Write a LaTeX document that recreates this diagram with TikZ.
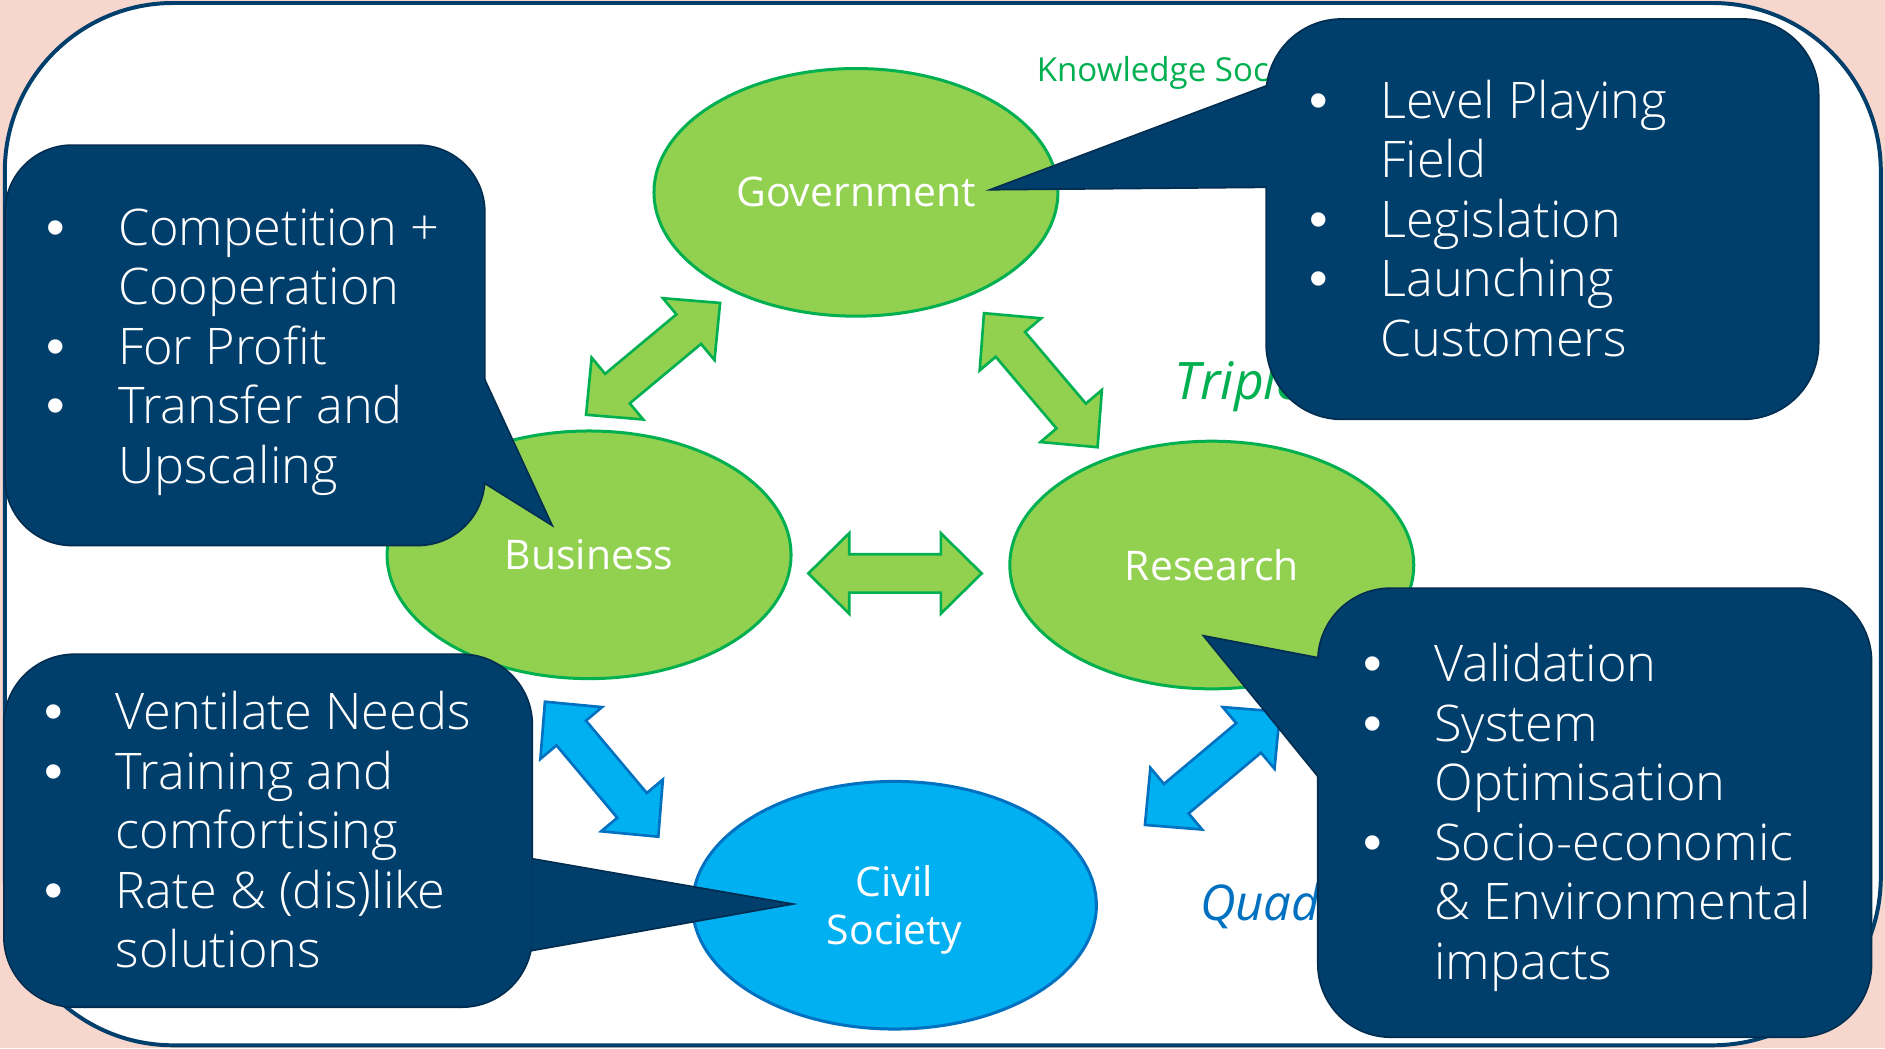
\documentclass[tikz,border=0pt]{standalone}
\usepackage{fontspec}
\setmainfont{Open Sans}
\newfontfamily\bulf{Liberation Sans}
\IfFontExistsTF{Open Sans Light}{\newfontfamily\lightf{Open Sans Light}}{%
 \IfFontExistsTF{OpenSans-Light}{\newfontfamily\lightf{OpenSans-Light}}{%
  \newfontfamily\lightf{Open Sans}}}
\usetikzlibrary{shapes.geometric,calc}
\definecolor{pinkbg}{RGB}{247,215,205}
\definecolor{navy}{RGB}{0,63,107}
\definecolor{navyline}{RGB}{0,45,80}
\definecolor{lgreen}{RGB}{146,208,80}
\definecolor{dgreen}{RGB}{0,176,80}
\definecolor{cyanb}{RGB}{0,176,240}
\definecolor{dblue}{RGB}{0,112,192}
\tikzset{
 ell/.style={ellipse, draw=dgreen, fill=lgreen, line width=2.5pt, minimum width=336pt, minimum height=206pt, inner sep=0pt, text=white, align=center, font=\fontsize{34}{40}\selectfont},
 civell/.style={ell, draw=dblue, fill=cyanb},
 elltxt/.style={inner sep=0pt, text=white, align=center, font=\fontsize{34}{40}\selectfont},
 garrow/.style={fill=lgreen, draw=dgreen, line width=2.2pt, line join=miter},
 barrow/.style={fill=cyanb, draw=dblue, line width=2.2pt, line join=miter},
 cotxt/.style={anchor=base west, inner sep=0pt, text=white, font=\lightf\fontsize{42}{49.5}\selectfont},
 cobul/.style={anchor=base, inner sep=0pt, text=white, font=\bulf\fontsize{44}{46}\selectfont},
 coline/.style={draw=navyline, line width=3pt, line join=miter},
 cofill/.style={fill=navy},
 helix/.style={anchor=base west, inner sep=0pt},
}
\newcommand\blockarrow[6]{%
 \coordinate (ba1) at ($(#1)!#3!(#2)$);
 \coordinate (ba2) at ($(#2)!#3!(#1)$);
 \draw[#6] (#1) -- ($(ba1)!#4!90:(#2)$) -- ($(ba1)!#5!90:(#2)$) -- ($(ba2)!#5!-90:(#1)$) -- ($(ba2)!#4!-90:(#1)$) -- (#2)
   -- ($(ba2)!#4!90:(#1)$) -- ($(ba2)!#5!90:(#1)$) -- ($(ba1)!#5!-90:(#2)$) -- ($(ba1)!#4!-90:(#2)$) -- cycle;}
\newcommand\callout[2]{%
 \draw[coline] #1; \draw[coline] #2; \fill[cofill] #1; \fill[cofill] #2;}
\begin{document}
\begin{tikzpicture}[x=1pt,y=-1pt]
\useasboundingbox (0,0) rectangle (1568,871.8);
\fill[pinkbg] (0,0) rectangle (1568,871.8);
\draw[navy, fill=white, line width=3.3pt, rounded corners=140pt] (4,2.5) rectangle (1564.5,869.5);
% helix labels
\node[helix, text=dgreen, font=\fontsize{27.5}{30}\selectfont] (ks) at (862.3,68) {Knowledge Soc};
\node[helix, text=dgreen, font=\itshape\fontsize{43}{48}\selectfont] (tri) at (977,332.7) {Triple};
\node[helix, text=dblue, font=\itshape\fontsize{41}{46}\selectfont] (quad) at (998,765.3) {Quad};
% actors
\node[ell] (gov) at (712,160) {Government};
\node[ell] (bus) at (490,461.5) {Business};
\node[ell] (res) at (1008,470) {Research};
\node[civell] (civ) at (744,753) {};
\node[elltxt] (civt) at (744,757) {Civil\\Society};
% block arrows
\coordinate (a1s) at (487.5,345);   \coordinate (a1e) at (599,252);
\coordinate (a2s) at (818.5,260.5); \coordinate (a2e) at (913,372);
\coordinate (a3s) at (672.4,477);   \coordinate (a3e) at (816.6,477);
\coordinate (a4s) at (453.3,583.7); \coordinate (a4e) at (547.6,696);
\coordinate (a5s) at (952.4,686.2); \coordinate (a5e) at (1064.7,592);
\blockarrow{a1s}{a1e}{34pt}{33.5pt}{16pt}{garrow}
\blockarrow{a2s}{a2e}{34pt}{33.5pt}{16pt}{garrow}
\blockarrow{a3s}{a3e}{34pt}{33.5pt}{16pt}{garrow}
\blockarrow{a4s}{a4e}{34pt}{33.5pt}{16pt}{barrow}
\blockarrow{a5s}{a5e}{34pt}{33.5pt}{16pt}{barrow}
% callouts
\callout{[rounded corners=55pt] (5,121.5) rectangle (402.5,453)}{(402.5,316) -- (457.5,435) -- (402.5,400.7) -- cycle}
\callout{[rounded corners=62pt] (1054,16.6) rectangle (1512,348)}{(1054,72) -- (828,157) -- (1054,155) -- cycle}
\callout{[rounded corners=58pt] (4,545) rectangle (442,837)}{(442,715) -- (655,752) -- (442,790) -- cycle}
\callout{[rounded corners=60pt] (1097,490) rectangle (1556,862)}{(1097,548) -- (1003,530) -- (1097,645.5) -- cycle}
% callout 1 text
\node[cobul] (b11) at (46.6,203.8) {•};
\node[cotxt] (t11) at (98,203.8) {Competition +};
\node[cotxt] (t12) at (98,253.3) {Cooperation};
\node[cobul] (b13) at (46.6,302.8) {•};
\node[cotxt] (t13) at (98,302.8) {For Profit};
\node[cobul] (b14) at (46.6,352.3) {•};
\node[cotxt] (t14) at (98,352.3) {Transfer and};
\node[cotxt] (t15) at (98,401.8) {Upscaling};
% callout 2 text
\node[cobul] (b21) at (1097,98.5) {•};
\node[cotxt] (t21) at (1148,98.5) {Level Playing};
\node[cotxt] (t22) at (1148,148) {Field};
\node[cobul] (b23) at (1097,197.5) {•};
\node[cotxt] (t23) at (1148,197.5) {Legislation};
\node[cobul] (b24) at (1097,247) {•};
\node[cotxt] (t24) at (1148,247) {Launching};
\node[cotxt] (t25) at (1148,296.5) {Customers};
% callout 3 text
\node[cobul] (b31) at (45,607) {•};
\node[cotxt] (t31) at (96,607) {Ventilate Needs};
\node[cobul] (b32) at (45,656.5) {•};
\node[cotxt] (t32) at (96,656.5) {Training and};
\node[cotxt] (t33) at (96,706) {comfortising};
\node[cobul] (b34) at (45,755.5) {•};
\node[cotxt] (t34) at (96,755.5) {Rate \& (dis)like};
\node[cotxt] (t35) at (96,805) {solutions};
% callout 4 text
\node[cobul] (b41) at (1142,567) {•};
\node[cotxt] (t41) at (1193,567) {Validation};
\node[cobul] (b42) at (1142,616.5) {•};
\node[cotxt] (t42) at (1193,616.5) {System};
\node[cotxt] (t43) at (1193,666) {Optimisation};
\node[cobul] (b44) at (1142,715.5) {•};
\node[cotxt] (t44) at (1193,715.5) {Socio-economic};
\node[cotxt] (t45) at (1193,765) {\& Environmental};
\node[cotxt] (t46) at (1193,814.5) {impacts};
\end{tikzpicture}
\end{document}
